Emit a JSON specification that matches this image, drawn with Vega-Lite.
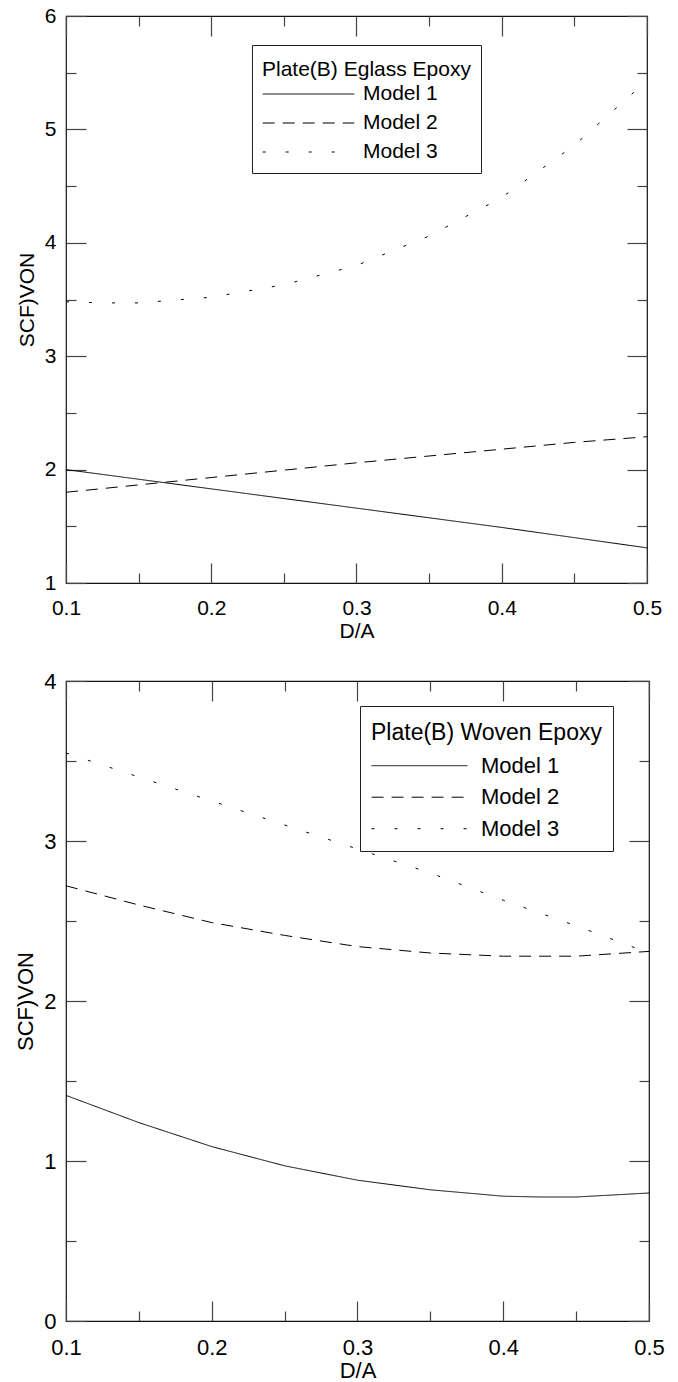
{
  "$schema": "https://vega.github.io/schema/vega-lite/v6.json",
  "padding": {"left": 14, "top": 4, "right": 0, "bottom": 0},
  "background": "white",
  "columns": 1,
  "align": "none",
  "spacing": 27,
  "resolve": {"scale": {"strokeDash": "independent"}, "legend": {"strokeDash": "independent"}},
  "config": {
    "font": "Liberation Sans",
    "view": {"stroke": "#111", "strokeWidth": 1.2},
    "axis": {"domain": false, "grid": false, "labelFlush": false, "tickColor": "#444", "tickWidth": 1.2, "labelColor": "black", "titleColor": "black", "labelFont": "Liberation Sans", "titleFont": "Liberation Sans", "titleFontWeight": "normal"},
    "legend": {"labelFont": "Liberation Sans", "titleFont": "Liberation Sans", "titleFontWeight": "normal", "titleLimit": 400, "labelLimit": 300}
  },
  "datasets": {
    "top": [
      {"model": "Model 1", "d": 0.1, "scf": 2.0},
      {"model": "Model 1", "d": 0.2, "scf": 1.83},
      {"model": "Model 1", "d": 0.3, "scf": 1.66},
      {"model": "Model 1", "d": 0.4, "scf": 1.49},
      {"model": "Model 1", "d": 0.5, "scf": 1.31},
      {"model": "Model 2", "d": 0.1, "scf": 1.8},
      {"model": "Model 2", "d": 0.15, "scf": 1.865},
      {"model": "Model 2", "d": 0.2, "scf": 1.93},
      {"model": "Model 2", "d": 0.25, "scf": 1.995},
      {"model": "Model 2", "d": 0.3, "scf": 2.06},
      {"model": "Model 2", "d": 0.35, "scf": 2.12},
      {"model": "Model 2", "d": 0.4, "scf": 2.18},
      {"model": "Model 2", "d": 0.45, "scf": 2.24},
      {"model": "Model 2", "d": 0.5, "scf": 2.29},
      {"model": "Model 3", "d": 0.1, "scf": 3.48},
      {"model": "Model 3", "d": 0.125, "scf": 3.47},
      {"model": "Model 3", "d": 0.15, "scf": 3.47},
      {"model": "Model 3", "d": 0.2, "scf": 3.52},
      {"model": "Model 3", "d": 0.25, "scf": 3.63},
      {"model": "Model 3", "d": 0.3, "scf": 3.8},
      {"model": "Model 3", "d": 0.35, "scf": 4.06},
      {"model": "Model 3", "d": 0.4, "scf": 4.4},
      {"model": "Model 3", "d": 0.45, "scf": 4.86},
      {"model": "Model 3", "d": 0.5, "scf": 5.43}
    ],
    "bottom": [
      {"model": "Model 1", "d": 0.1, "scf": 1.41},
      {"model": "Model 1", "d": 0.15, "scf": 1.24},
      {"model": "Model 1", "d": 0.2, "scf": 1.09},
      {"model": "Model 1", "d": 0.25, "scf": 0.97},
      {"model": "Model 1", "d": 0.3, "scf": 0.88},
      {"model": "Model 1", "d": 0.35, "scf": 0.82},
      {"model": "Model 1", "d": 0.4, "scf": 0.78},
      {"model": "Model 1", "d": 0.425, "scf": 0.775},
      {"model": "Model 1", "d": 0.45, "scf": 0.775},
      {"model": "Model 1", "d": 0.5, "scf": 0.8},
      {"model": "Model 2", "d": 0.1, "scf": 2.72},
      {"model": "Model 2", "d": 0.15, "scf": 2.6},
      {"model": "Model 2", "d": 0.2, "scf": 2.49},
      {"model": "Model 2", "d": 0.25, "scf": 2.41},
      {"model": "Model 2", "d": 0.3, "scf": 2.34},
      {"model": "Model 2", "d": 0.35, "scf": 2.3},
      {"model": "Model 2", "d": 0.4, "scf": 2.28},
      {"model": "Model 2", "d": 0.45, "scf": 2.28},
      {"model": "Model 2", "d": 0.5, "scf": 2.31},
      {"model": "Model 3", "d": 0.1, "scf": 3.55},
      {"model": "Model 3", "d": 0.15, "scf": 3.4},
      {"model": "Model 3", "d": 0.2, "scf": 3.25},
      {"model": "Model 3", "d": 0.25, "scf": 3.1},
      {"model": "Model 3", "d": 0.3, "scf": 2.95},
      {"model": "Model 3", "d": 0.35, "scf": 2.8},
      {"model": "Model 3", "d": 0.4, "scf": 2.63},
      {"model": "Model 3", "d": 0.45, "scf": 2.47},
      {"model": "Model 3", "d": 0.5, "scf": 2.3}
    ]
  },
  "concat": [
    {
      "width": 581,
      "height": 567,
      "data": {"name": "top"},
      "resolve": {"axis": {"x": "independent", "y": "independent"}},
      "layer": [
        {
          "mark": {"type": "line", "color": "black", "strokeWidth": 1},
          "encoding": {
            "x": {"field": "d", "type": "quantitative", "scale": {"domain": [0.1, 0.5], "nice": false, "zero": false},
              "axis": {"orient": "bottom", "values": [0.1, 0.2, 0.3, 0.4, 0.5], "format": ".1f", "tickSize": -20, "labelPadding": 34, "labelFontSize": 21, "title": "D/A", "titleFontSize": 21, "titlePadding": 2}},
            "y": {"field": "scf", "type": "quantitative", "scale": {"domain": [1, 6], "nice": false, "zero": false},
              "axis": {"orient": "left", "values": [1, 2, 3, 4, 5, 6], "tickSize": -20, "labelPadding": 30, "labelFontSize": 21, "title": "SCF)VON", "titleFontSize": 21, "titlePadding": 7}},
            "strokeDash": {"field": "model", "type": "nominal",
              "scale": {"domain": ["Model 1", "Model 2", "Model 3"], "range": [[1, 0], [12, 8], [3, 20]]},
              "legend": {"orient": "none", "legendX": 186, "legendY": 29, "title": "Plate(B) Eglass Epoxy", "titleFontSize": 21, "titleBaseline": "line-top", "titleLineHeight": 29, "labelFontSize": 21, "symbolType": "stroke", "symbolSize": 8400, "symbolStrokeWidth": 1, "symbolStrokeColor": "black", "strokeColor": "#222", "padding": 10, "labelOffset": 8, "clipHeight": 21, "rowPadding": 7, "titlePadding": 7.5, "labelColor": "black", "titleColor": "black"}}
          }
        },
        {
          "mark": {"type": "line", "opacity": 0},
          "encoding": {
            "x": {"field": "d", "type": "quantitative", "axis": {"orient": "bottom", "values": [0.15, 0.25, 0.35, 0.45], "tickSize": -10, "labels": false, "title": null}},
            "y": {"field": "scf", "type": "quantitative", "axis": {"orient": "left", "values": [1.5, 2.5, 3.5, 4.5, 5.5], "tickSize": -10, "labels": false, "title": null}}
          }
        },
        {
          "mark": {"type": "line", "opacity": 0},
          "encoding": {
            "x": {"field": "d", "type": "quantitative", "axis": {"orient": "top", "values": [0.1, 0.2, 0.3, 0.4, 0.5], "tickSize": -20, "labels": false, "title": null}},
            "y": {"field": "scf", "type": "quantitative", "axis": {"orient": "right", "values": [1, 2, 3, 4, 5, 6], "tickSize": -20, "labels": false, "title": null}}
          }
        },
        {
          "mark": {"type": "line", "opacity": 0},
          "encoding": {
            "x": {"field": "d", "type": "quantitative", "axis": {"orient": "top", "values": [0.15, 0.25, 0.35, 0.45], "tickSize": -10, "labels": false, "title": null}},
            "y": {"field": "scf", "type": "quantitative", "axis": {"orient": "right", "values": [1.5, 2.5, 3.5, 4.5, 5.5], "tickSize": -10, "labels": false, "title": null}}
          }
        }
      ]
    },
    {
      "width": 583,
      "height": 640,
      "data": {"name": "bottom"},
      "resolve": {"axis": {"x": "independent", "y": "independent"}},
      "layer": [
        {
          "mark": {"type": "line", "color": "black", "strokeWidth": 1},
          "encoding": {
            "x": {"field": "d", "type": "quantitative", "scale": {"domain": [0.1, 0.5], "nice": false, "zero": false},
              "axis": {"orient": "bottom", "values": [0.1, 0.2, 0.3, 0.4, 0.5], "format": ".1f", "tickSize": -20, "labelPadding": 36, "labelFontSize": 22, "title": "D/A", "titleFontSize": 22, "titlePadding": 2}},
            "y": {"field": "scf", "type": "quantitative", "scale": {"domain": [0, 4], "nice": false, "zero": false},
              "axis": {"orient": "left", "values": [0, 1, 2, 3, 4], "tickSize": -20, "labelPadding": 30, "labelFontSize": 22, "title": "SCF)VON", "titleFontSize": 22, "titlePadding": 6}},
            "strokeDash": {"field": "model", "type": "nominal",
              "scale": {"domain": ["Model 1", "Model 2", "Model 3"], "range": [[1, 0], [12, 8], [3, 20]]},
              "legend": {"orient": "none", "legendX": 294, "legendY": 25, "title": "Plate(B) Woven Epoxy", "titleFontSize": 23, "titleBaseline": "line-top", "titleLineHeight": 33, "labelFontSize": 22, "symbolType": "stroke", "symbolSize": 9200, "symbolStrokeWidth": 1, "symbolStrokeColor": "black", "strokeColor": "#222", "padding": 11, "labelOffset": 13, "clipHeight": 22, "rowPadding": 9.5, "titlePadding": 14.7, "labelColor": "black", "titleColor": "black"}}
          }
        },
        {
          "mark": {"type": "line", "opacity": 0},
          "encoding": {
            "x": {"field": "d", "type": "quantitative", "axis": {"orient": "bottom", "values": [0.15, 0.25, 0.35, 0.45], "tickSize": -10, "labels": false, "title": null}},
            "y": {"field": "scf", "type": "quantitative", "axis": {"orient": "left", "values": [0.5, 1.5, 2.5, 3.5], "tickSize": -10, "labels": false, "title": null}}
          }
        },
        {
          "mark": {"type": "line", "opacity": 0},
          "encoding": {
            "x": {"field": "d", "type": "quantitative", "axis": {"orient": "top", "values": [0.1, 0.2, 0.3, 0.4, 0.5], "tickSize": -20, "labels": false, "title": null}},
            "y": {"field": "scf", "type": "quantitative", "axis": {"orient": "right", "values": [0, 1, 2, 3, 4], "tickSize": -20, "labels": false, "title": null}}
          }
        },
        {
          "mark": {"type": "line", "opacity": 0},
          "encoding": {
            "x": {"field": "d", "type": "quantitative", "axis": {"orient": "top", "values": [0.15, 0.25, 0.35, 0.45], "tickSize": -10, "labels": false, "title": null}},
            "y": {"field": "scf", "type": "quantitative", "axis": {"orient": "right", "values": [0.5, 1.5, 2.5, 3.5], "tickSize": -10, "labels": false, "title": null}}
          }
        }
      ]
    }
  ]
}
